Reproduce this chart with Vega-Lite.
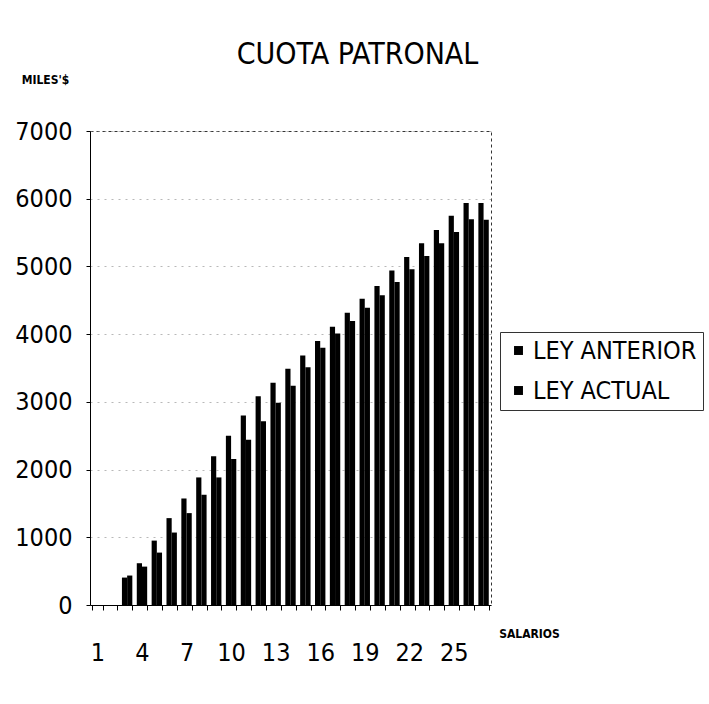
{
  "$schema": "https://vega.github.io/schema/vega-lite/v6.json",
  "width": 401,
  "height": 474,
  "autosize": {"type": "none"},
  "padding": {"left": 90, "top": 131, "right": 218, "bottom": 99},
  "background": "white",
  "title": {
    "text": "CUOTA PATRONAL",
    "font": "DejaVu Sans Condensed, DejaVu Sans, sans-serif",
    "fontSize": 30,
    "fontWeight": "normal",
    "color": "black",
    "anchor": "middle",
    "frame": "group",
    "dx": 67,
    "offset": 3
  },
  "data": {
    "values": [
      {"salario": 3, "ley": "LEY ANTERIOR", "miles": 405},
      {"salario": 3, "ley": "LEY ACTUAL", "miles": 435},
      {"salario": 4, "ley": "LEY ANTERIOR", "miles": 617},
      {"salario": 4, "ley": "LEY ACTUAL", "miles": 567},
      {"salario": 5, "ley": "LEY ANTERIOR", "miles": 951},
      {"salario": 5, "ley": "LEY ACTUAL", "miles": 774},
      {"salario": 6, "ley": "LEY ANTERIOR", "miles": 1283},
      {"salario": 6, "ley": "LEY ACTUAL", "miles": 1070},
      {"salario": 7, "ley": "LEY ANTERIOR", "miles": 1573},
      {"salario": 7, "ley": "LEY ACTUAL", "miles": 1357},
      {"salario": 8, "ley": "LEY ANTERIOR", "miles": 1884},
      {"salario": 8, "ley": "LEY ACTUAL", "miles": 1628},
      {"salario": 9, "ley": "LEY ANTERIOR", "miles": 2195},
      {"salario": 9, "ley": "LEY ACTUAL", "miles": 1884},
      {"salario": 10, "ley": "LEY ANTERIOR", "miles": 2501},
      {"salario": 10, "ley": "LEY ACTUAL", "miles": 2156},
      {"salario": 11, "ley": "LEY ANTERIOR", "miles": 2797},
      {"salario": 11, "ley": "LEY ACTUAL", "miles": 2442},
      {"salario": 12, "ley": "LEY ANTERIOR", "miles": 3083},
      {"salario": 12, "ley": "LEY ACTUAL", "miles": 2713},
      {"salario": 13, "ley": "LEY ANTERIOR", "miles": 3281},
      {"salario": 13, "ley": "LEY ACTUAL", "miles": 2985},
      {"salario": 14, "ley": "LEY ANTERIOR", "miles": 3490},
      {"salario": 14, "ley": "LEY ACTUAL", "miles": 3237},
      {"salario": 15, "ley": "LEY ANTERIOR", "miles": 3685},
      {"salario": 15, "ley": "LEY ACTUAL", "miles": 3512},
      {"salario": 16, "ley": "LEY ANTERIOR", "miles": 3897},
      {"salario": 16, "ley": "LEY ACTUAL", "miles": 3799},
      {"salario": 17, "ley": "LEY ANTERIOR", "miles": 4110},
      {"salario": 17, "ley": "LEY ACTUAL", "miles": 4011},
      {"salario": 18, "ley": "LEY ANTERIOR", "miles": 4317},
      {"salario": 18, "ley": "LEY ACTUAL", "miles": 4193},
      {"salario": 19, "ley": "LEY ANTERIOR", "miles": 4524},
      {"salario": 19, "ley": "LEY ACTUAL", "miles": 4391},
      {"salario": 20, "ley": "LEY ANTERIOR", "miles": 4711},
      {"salario": 20, "ley": "LEY ACTUAL", "miles": 4573},
      {"salario": 21, "ley": "LEY ANTERIOR", "miles": 4939},
      {"salario": 21, "ley": "LEY ACTUAL", "miles": 4770},
      {"salario": 22, "ley": "LEY ANTERIOR", "miles": 5140},
      {"salario": 22, "ley": "LEY ACTUAL", "miles": 4958},
      {"salario": 23, "ley": "LEY ANTERIOR", "miles": 5343},
      {"salario": 23, "ley": "LEY ACTUAL", "miles": 5155},
      {"salario": 24, "ley": "LEY ANTERIOR", "miles": 5539},
      {"salario": 24, "ley": "LEY ACTUAL", "miles": 5343},
      {"salario": 25, "ley": "LEY ANTERIOR", "miles": 5747},
      {"salario": 25, "ley": "LEY ACTUAL", "miles": 5510},
      {"salario": 26, "ley": "LEY ANTERIOR", "miles": 5935},
      {"salario": 26, "ley": "LEY ACTUAL", "miles": 5698},
      {"salario": 27, "ley": "LEY ANTERIOR", "miles": 5935},
      {"salario": 27, "ley": "LEY ACTUAL", "miles": 5688}
    ]
  },
  "mark": {"type": "bar"},
  "encoding": {
    "x": {
      "field": "salario",
      "type": "ordinal",
      "scale": {
        "domain": [1,2,3,4,5,6,7,8,9,10,11,12,13,14,15,16,17,18,19,20,21,22,23,24,25,26,27],
        "paddingInner": 0.3,
        "paddingOuter": 0.15
      },
      "axis": {
        "labelAngle": 0,
        "labelExpr": "(datum.value - 1) % 3 == 0 ? datum.label : ''",
        "labelFont": "DejaVu Sans Condensed, DejaVu Sans, sans-serif",
        "labelFontSize": 25,
        "labelColor": "black",
        "labelPadding": 30,
        "tickBand": "extent",
        "tickSize": 5,
        "tickColor": "black",
        "domainColor": "black",
        "grid": false,
        "title": "SALARIOS",
        "titleFont": "DejaVu Sans Condensed, DejaVu Sans, sans-serif",
        "titleFontSize": 12,
        "titleFontWeight": "bold",
        "titleColor": "black",
        "titleX": 439,
        "titleY": 28,
        "titleAlign": "center",
        "titleBaseline": "middle"
      }
    },
    "xOffset": {"field": "ley", "type": "nominal", "sort": ["LEY ANTERIOR", "LEY ACTUAL"]},
    "y": {
      "field": "miles",
      "type": "quantitative",
      "scale": {"domain": [0, 7000]},
      "axis": {
        "values": [0, 1000, 2000, 3000, 4000, 5000, 6000, 7000],
        "format": "d",
        "labelFont": "DejaVu Sans Condensed, DejaVu Sans, sans-serif",
        "labelFontSize": 25,
        "labelColor": "black",
        "labelPadding": 14,
        "tickSize": 4,
        "tickColor": "black",
        "domainColor": "black",
        "grid": true,
        "gridColor": "#888",
        "gridDash": [2, 5],
        "gridOpacity": 0.6,
        "title": "MILES'$",
        "titleFont": "DejaVu Sans Condensed, DejaVu Sans, sans-serif",
        "titleFontSize": 12,
        "titleFontWeight": "bold",
        "titleColor": "black",
        "titleAngle": 0,
        "titleX": -45,
        "titleY": -52,
        "titleAlign": "center",
        "titleBaseline": "middle"
      }
    },
    "color": {
      "field": "ley",
      "type": "nominal",
      "sort": ["LEY ANTERIOR", "LEY ACTUAL"],
      "scale": {"range": ["#000000", "#000000"]},
      "legend": {
        "orient": "none",
        "legendX": 410,
        "legendY": 201,
        "direction": "vertical",
        "title": null,
        "symbolType": "square",
        "symbolSize": 80,
        "symbolStrokeWidth": 0,
        "labelFont": "DejaVu Sans Condensed, DejaVu Sans, sans-serif",
        "labelFontSize": 25,
        "labelColor": "black",
        "labelOffset": 2,
        "labelLimit": 300,
        "rowPadding": 14,
        "padding": 6,
        "strokeColor": "#333"
      }
    }
  },
  "config": {
    "view": {"stroke": "#333", "strokeDash": [3, 3], "strokeWidth": 1}
  }
}
